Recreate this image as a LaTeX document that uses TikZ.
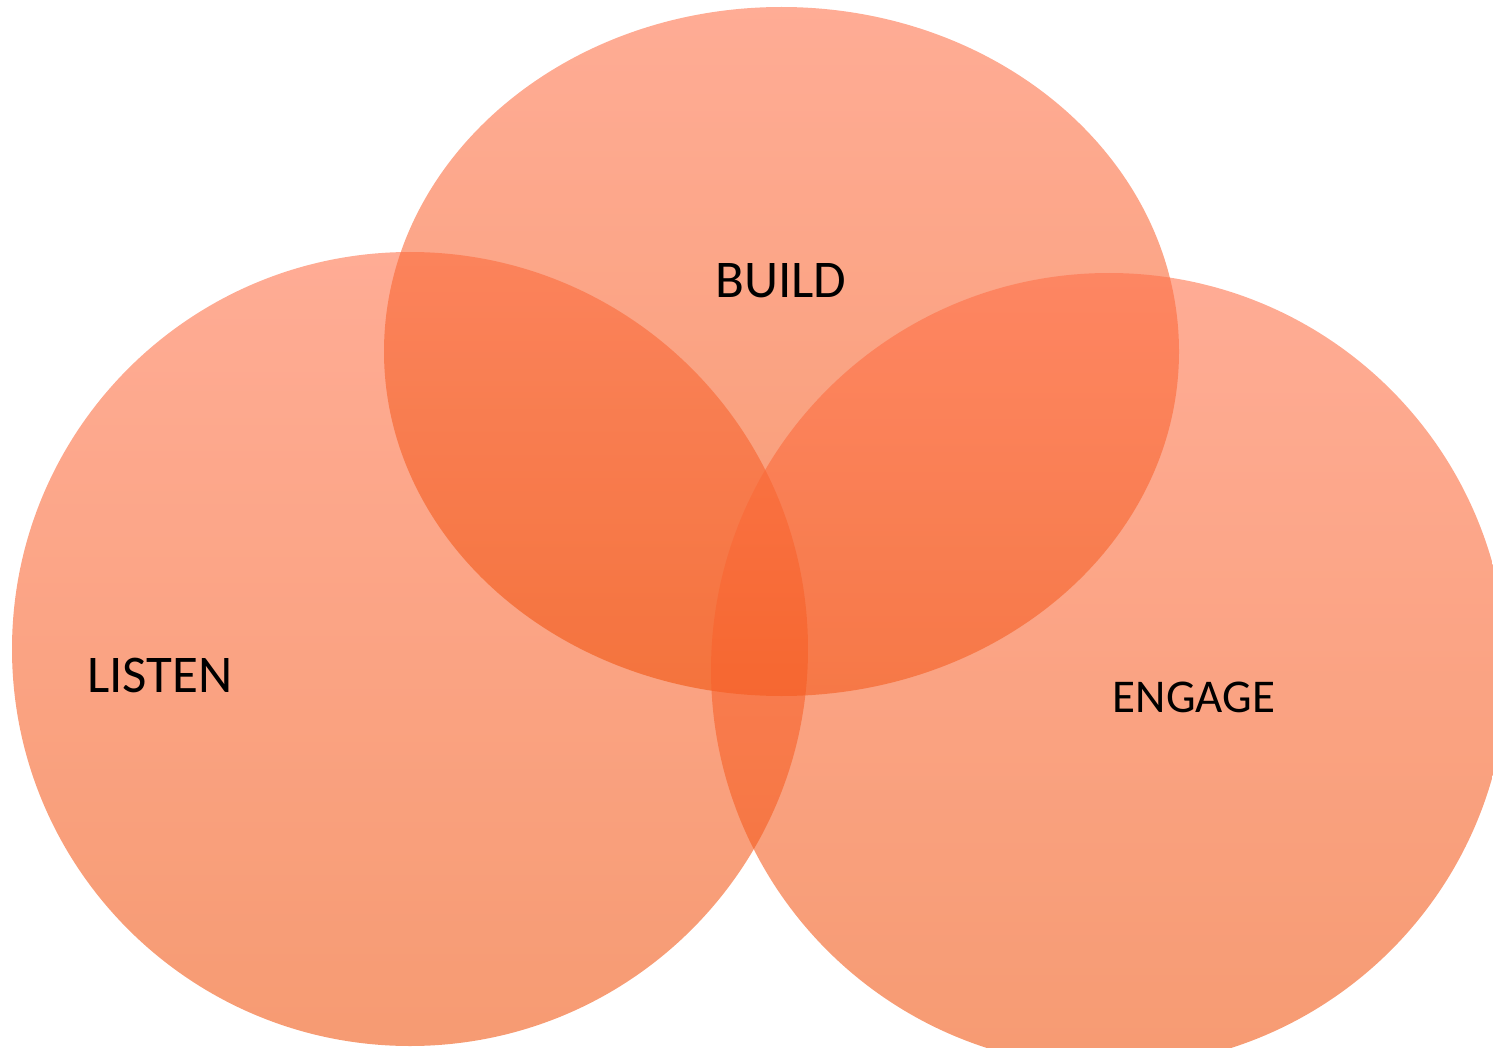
\documentclass[tikz,border=0pt]{standalone}
\usepackage{fontspec}
\setmainfont{Carlito}
\usetikzlibrary{shapes.geometric,positioning}
\definecolor{VennTop}{RGB}{255,112,72}
\definecolor{VennBottom}{RGB}{240,82,12}

\begin{document}
\begin{tikzpicture}[x=0.5pt,y=-0.5pt,
    venn/.style={draw=none, ellipse, inner sep=0pt, outer sep=0pt, top color=VennTop, bottom color=VennBottom, fill opacity=0.58},
    bigvenn/.style={venn, minimum width=398pt, minimum height=397pt},
    word/.style={font={\fontsize{26.5}{30}\selectfont}, text=black, inner sep=0pt}
    ]
    \useasboundingbox (0,0) rectangle (1493,1048);
    \clip (0,0) rectangle (1493,1048);

    \node [bigvenn] (listen) at (410,649) {};
    \node [venn, minimum width=397.5pt, minimum height=344.5pt] (build) at (781.5,351.5) {};
    \node [bigvenn] (engage) at (1109,670) {};

    \node [word] (buildtext) at (781,281) {BUILD};
    \node [word] (listentext) at (160,675) {LISTEN};
    \node [word, font={\fontsize{23.5}{27}\selectfont}] (engagetext) at (1194,697) {ENGAGE};
\end{tikzpicture}
\end{document}
